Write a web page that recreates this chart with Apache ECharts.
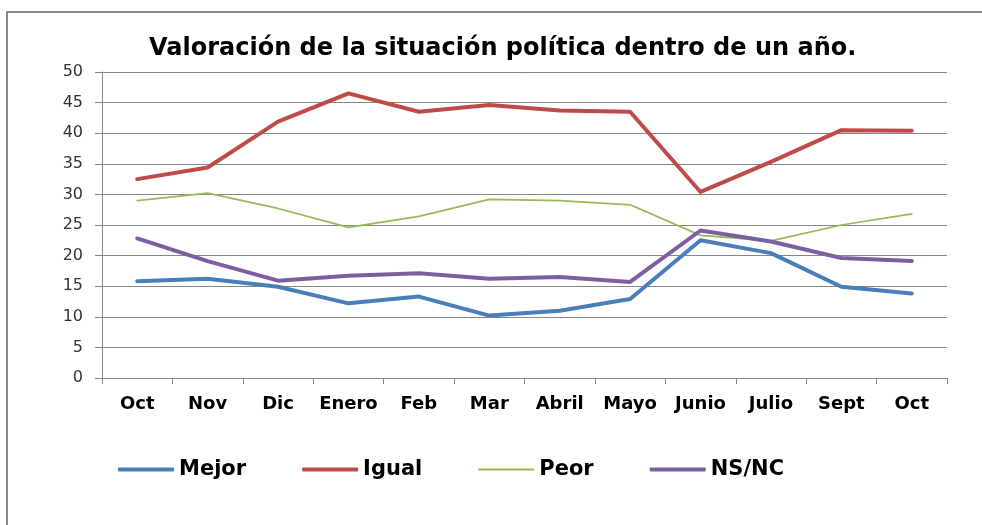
<!DOCTYPE html>
<html>
<head>
<meta charset="utf-8">
<script src="https://cdn.jsdelivr.net/npm/echarts@6/dist/echarts.min.js"></script>
<style>
  html, body { margin: 0; padding: 0; background: #fff; }
  #chart { width: 982px; height: 525px; }
</style>
</head>
<body>
<div id="chart"></div>
<script>
// meses de la encuesta
const meses = ['Oct', 'Nov', 'Dic', 'Enero', 'Feb', 'Mar', 'Abril', 'Mayo', 'Junio', 'Julio', 'Sept', 'Oct'];

// valores (%)
const mejor = [15.8, 16.2, 14.9, 12.2, 13.3, 10.2, 11.0, 12.9, 22.5, 20.4, 14.9, 13.8];
const igual = [32.5, 34.4, 41.9, 46.5, 43.5, 44.6, 43.7, 43.5, 30.4, 35.3, 40.5, 40.4];
const peor  = [29.0, 30.2, 27.7, 24.6, 26.4, 29.2, 29.0, 28.3, 23.3, 22.4, 25.0, 26.8];
const nsnc  = [22.8, 19.1, 15.9, 16.7, 17.1, 16.2, 16.5, 15.7, 24.1, 22.3, 19.6, 19.1];

const chart = echarts.init(document.getElementById('chart'));

function serie(name, data, color, width) {
  return {
    name: name,
    type: 'line',
    data: data,
    symbol: 'none',
    lineStyle: { color: color, width: width, cap: 'round', join: 'round' },
    itemStyle: { color: color }
  };
}

// icono fino para "Peor" (la caja invisible mantiene el alto de 4px)
const iconoFino = 'path://M0,0L0.01,0L0,0ZM0,4L0.01,4L0,4ZM0,1h56v2h-56z';

chart.setOption({
  animation: false,
  backgroundColor: '#fff',
  graphic: [{
    type: 'rect',
    shape: { x: 7, y: 12, width: 990, height: 530 },
    style: { fill: 'none', stroke: '#898989', lineWidth: 2 },
    silent: true
  }],
  title: {
    text: 'Valoración de la situación política dentro de un año.',
    left: 144,
    top: 32,
    textStyle: {
      fontFamily: 'DejaVu Sans',
      fontWeight: 'bold',
      fontSize: 24,
      color: '#000'
    }
  },
  legend: {
    left: 113,
    top: 454,
    icon: 'roundRect',
    itemWidth: 56,
    itemHeight: 4,
    itemGap: 56,
    textStyle: {
      fontFamily: 'DejaVu Sans',
      fontWeight: 'bold',
      fontSize: 21,
      color: '#000'
    },
    data: [
      { name: 'Mejor' },
      { name: 'Igual' },
      { name: 'Peor', icon: iconoFino },
      { name: 'NS/NC' }
    ]
  },
  grid: { left: 102, top: 72, right: 35, bottom: 147, containLabel: false },
  xAxis: {
    type: 'category',
    data: meses,
    boundaryGap: true,
    axisLine: { lineStyle: { color: '#868686', width: 1 } },
    axisTick: { show: true, inside: false, length: 6, lineStyle: { color: '#868686' } },
    axisLabel: {
      margin: 17,
      fontFamily: 'DejaVu Sans',
      fontWeight: 'bold',
      fontSize: 18,
      color: '#000',
      interval: 0
    }
  },
  yAxis: {
    type: 'value',
    min: 0,
    max: 50,
    interval: 5,
    axisLine: { show: true, lineStyle: { color: '#868686', width: 1 } },
    axisTick: { show: true, inside: false, length: 7, lineStyle: { color: '#868686' } },
    axisLabel: {
      margin: 19,
      fontFamily: 'DejaVu Sans',
      fontSize: 16,
      color: '#333'
    },
    splitLine: { lineStyle: { color: '#868686', width: 1 } }
  },
  series: [
    serie('Mejor', mejor, '#4A7EBB', 4),
    serie('Igual', igual, '#BE4B48', 4),
    serie('Peor', peor, '#98B954', 1.75),
    serie('NS/NC', nsnc, '#7D5FA0', 4)
  ]
});
</script>
</body>
</html>
